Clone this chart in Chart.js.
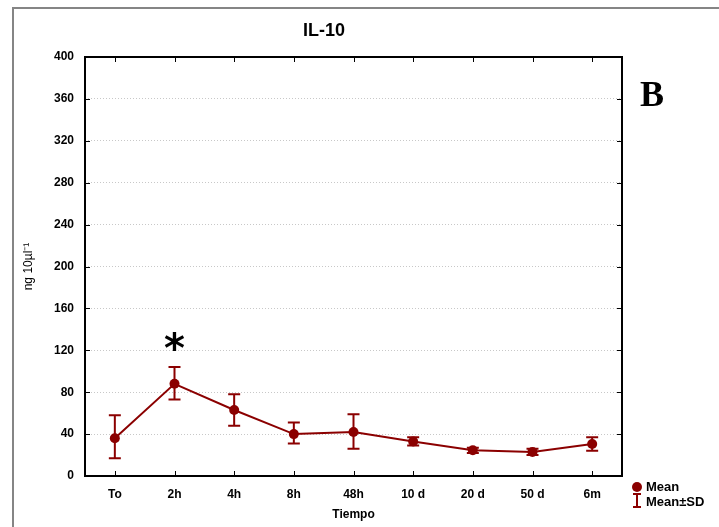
<!DOCTYPE html>
<html>
<head>
<meta charset="utf-8">
<script src="https://cdn.jsdelivr.net/npm/chart.js@4.4.1/dist/chart.umd.min.js"></script>
<style>
  html, body { margin: 0; padding: 0; background: #fff; }
  #wrap { position: relative; width: 719px; height: 527px; overflow: hidden; }
  #frame { position: absolute; left: 12px; top: 7px; width: 800px; height: 600px;
           border-left: 2px solid #858585; border-top: 2px solid #858585; }
  #chart { position: absolute; left: 0; top: 0; }
</style>
</head>
<body>
<div id="wrap">
  <div id="frame"></div>
  <canvas id="chart" width="719" height="527"></canvas>
</div>
<script>
// ---- data (IL-10, panel B) ----
const categories = ['To', '2h', '4h', '8h', '48h', '10 d', '20 d', '50 d', '6m'];
const meanValues = [36, 88, 63, 40, 42, 33, 24.5, 23, 30.5];
const sdUpper = [58, 104, 78, 51, 59, 37, 27, 26, 37];
const sdLower = [17, 73, 48, 31, 26, 29, 22, 20, 24];
const significant = [1]; // index of '2h' marked with asterisk

const RED = '#8b0000';
const FONT = '"Liberation Sans", Arial, sans-serif';

// error bars drawn under the mean markers
const errorBarPlugin = {
    id: 'errorBars',
    beforeDatasetsDraw(chart) {
        const { ctx, scales: { x, y } } = chart;
        ctx.save();
        ctx.strokeStyle = RED;
        ctx.lineWidth = 2;
        categories.forEach((c, i) => {
            const px = x.getPixelForValue(i);
            const top = y.getPixelForValue(sdUpper[i]);
            const bot = y.getPixelForValue(sdLower[i]);
            ctx.beginPath();
            ctx.moveTo(px, top); ctx.lineTo(px, bot);
            ctx.moveTo(px - 6, top); ctx.lineTo(px + 6, top);
            ctx.moveTo(px - 6, bot); ctx.lineTo(px + 6, bot);
            ctx.stroke();
        });
        ctx.restore();
    }
};

// box around the plot with inward tick marks on all sides
const boxPlugin = {
    id: 'box',
    afterDraw(chart) {
        const { ctx, chartArea: a, scales: { x, y } } = chart;
        ctx.save();
        ctx.strokeStyle = '#000';
        ctx.lineWidth = 1;
        ctx.beginPath();
        x.ticks.forEach((t, i) => {
            const px = Math.round(x.getPixelForTick(i)) + 0.5;
            ctx.moveTo(px, a.bottom); ctx.lineTo(px, a.bottom - 5);
            ctx.moveTo(px, a.top); ctx.lineTo(px, a.top + 5);
        });
        y.ticks.forEach((t, i) => {
            const py = Math.round(y.getPixelForTick(i)) + 0.5;
            ctx.moveTo(a.left, py); ctx.lineTo(a.left + 5, py);
            ctx.moveTo(a.right, py); ctx.lineTo(a.right - 5, py);
        });
        ctx.stroke();
        ctx.lineWidth = 2;
        ctx.strokeRect(a.left, a.top, a.right - a.left, a.bottom - a.top);
        ctx.restore();
    }
};

// title, panel letter, asterisk and legend
const notesPlugin = {
    id: 'notes',
    afterDraw(chart) {
        const { ctx, scales: { x, y } } = chart;
        ctx.save();
        ctx.fillStyle = '#000';
        ctx.textAlign = 'center';
        ctx.textBaseline = 'middle';
        ctx.font = 'bold 18px ' + FONT;
        ctx.fillText('IL-10', 324, 31);

        ctx.textAlign = 'left';
        ctx.textBaseline = 'alphabetic';
        ctx.font = 'bold 36px "Liberation Serif", "Times New Roman", serif';
        ctx.fillText('B', 640, 106);

        ctx.textAlign = 'center';
        ctx.textBaseline = 'middle';
        ctx.font = 'bold 40px "DejaVu Sans", sans-serif';
        significant.forEach(i => {
            ctx.fillText('*', x.getPixelForValue(i), y.getPixelForValue(sdUpper[i]) - 15);
        });

        // legend
        ctx.fillStyle = RED;
        ctx.beginPath();
        ctx.arc(637, 487, 5, 0, Math.PI * 2);
        ctx.fill();
        ctx.strokeStyle = RED;
        ctx.lineWidth = 2;
        ctx.beginPath();
        ctx.moveTo(637, 494); ctx.lineTo(637, 507);
        ctx.moveTo(633, 494); ctx.lineTo(641, 494);
        ctx.moveTo(633, 507); ctx.lineTo(641, 507);
        ctx.stroke();
        ctx.fillStyle = '#000';
        ctx.textAlign = 'left';
        ctx.font = 'bold 13px ' + FONT;
        ctx.fillText('Mean', 646, 487);
        ctx.fillText('Mean\u00b1SD', 646, 502);
        ctx.restore();
    }
};

new Chart(document.getElementById('chart'), {
    type: 'line',
    data: {
        labels: categories,
        datasets: [{
            label: 'Mean',
            data: meanValues,
            borderColor: RED,
            backgroundColor: RED,
            borderWidth: 2,
            pointRadius: 5,
            pointBorderWidth: 0,
            pointBackgroundColor: RED,
            tension: 0,
        }]
    },
    options: {
        responsive: false,
        animation: false,
        layout: { padding: { top: 57, right: 97, left: 0, bottom: 0 } },
        plugins: {
            legend: { display: false },
            title: { display: false },
            tooltip: { enabled: false },
        },
        scales: {
            x: {
                offset: true,
                grid: { display: false, drawTicks: false },
                border: { display: false },
                ticks: { padding: 11, color: '#000', font: { family: FONT, size: 12, weight: 'bold' } },
                title: {
                    display: true, text: 'Tiempo', color: '#000',
                    font: { family: FONT, size: 12, weight: 'bold' },
                    padding: { top: 0, bottom: 5 }
                },
                afterFit: s => { s.height = 51; }
            },
            y: {
                min: 0,
                max: 400,
                grid: { color: '#c8c8c8', lineWidth: 1, drawTicks: false },
                border: { display: false, dash: [1, 2] },
                ticks: { stepSize: 40, padding: 11, color: '#000', font: { family: FONT, size: 12, weight: 'bold' } },
                title: {
                    display: true, text: 'ng 10\u00b5l\u207b\u00b9', color: '#000',
                    font: { family: FONT, size: 12 },
                    padding: { top: 21, bottom: 0 }
                },
                afterFit: s => { s.width = 85; }
            }
        }
    },
    plugins: [errorBarPlugin, boxPlugin, notesPlugin]
});
</script>
</body>
</html>
